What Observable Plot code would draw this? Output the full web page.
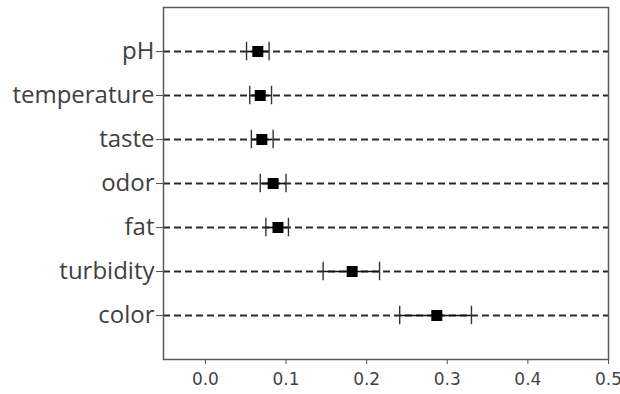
<!DOCTYPE html>
<html>
<head>
<meta charset="utf-8">
<script src="https://cdn.jsdelivr.net/npm/d3@7"></script>
<script src="https://cdn.jsdelivr.net/npm/@observablehq/plot@0.6"></script>
<style>
  html, body { margin: 0; padding: 0; background: #fff; }
  #chart svg { display: block; }
</style>
</head>
<body>
<div id="chart"></div>
<script>
const categories = ["pH", "temperature", "taste", "odor", "fat", "turbidity", "color"];
const means = [0.065, 0.068, 0.070, 0.084, 0.090, 0.182, 0.287];
const lows  = [0.051, 0.055, 0.057, 0.068, 0.075, 0.146, 0.241];
const highs = [0.079, 0.082, 0.084, 0.100, 0.103, 0.216, 0.330];
const xTicks = [0.0, 0.1, 0.2, 0.3, 0.4, 0.5];

const rows = categories.map((c, i) => ({i, c, m: means[i], lo: lows[i], hi: highs[i]}));

const chart = Plot.plot({
  width: 620,
  height: 394,
  marginLeft: 163,
  marginRight: 12,
  marginTop: 7,
  marginBottom: 35,
  style: {background: "#fff", overflow: "visible"},
  x: {domain: [-0.052, 0.5]},
  y: {domain: [7, -1]},
  marks: [
    Plot.ruleY(rows, {y: "i", stroke: "#2a2a2a", strokeWidth: 2, strokeDasharray: "7,4"}),
    Plot.ruleY(rows, {y: "i", x1: "lo", x2: "hi", stroke: "#111", strokeWidth: 1.7}),
    Plot.ruleX(rows, {x: "lo", y1: d => d.i - 0.21, y2: d => d.i + 0.21, stroke: "#333", strokeWidth: 1.4}),
    Plot.ruleX(rows, {x: "hi", y1: d => d.i - 0.21, y2: d => d.i + 0.21, stroke: "#333", strokeWidth: 1.4}),
    Plot.dot(rows, {x: "m", y: "i", symbol: "square", r: 6.2, fill: "#000", stroke: "none"}),
    Plot.axisX({ticks: xTicks, tickFormat: d3.format(".1f"), tickSize: 5, tickPadding: 8, stroke: "#555",
      fontSize: 17, fontFamily: "DejaVu Sans", fill: "#444", label: null}),
    Plot.axisY({ticks: d3.range(categories.length), tickFormat: i => categories[i], tickSize: 7, tickPadding: 2,
      stroke: "#555", fontSize: 24, fontFamily: "Open Sans", fill: "#404040", label: null}),
    Plot.frame({stroke: "#5a5a5a", strokeWidth: 1.5})
  ]
});
document.getElementById("chart").appendChild(chart);
</script>
</body>
</html>
